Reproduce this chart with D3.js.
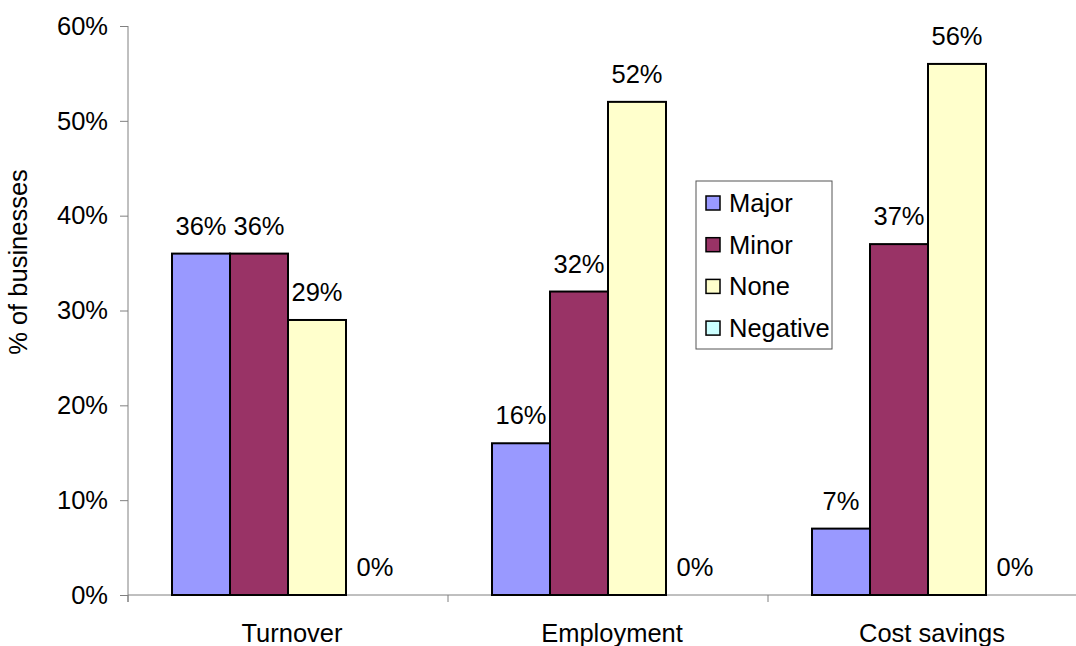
<!DOCTYPE html>
<html>
<head>
<meta charset="utf-8">
<script src="https://cdn.jsdelivr.net/npm/d3@7"></script>
<style>
  html, body { margin: 0; padding: 0; background: #fff; }
  svg { display: block; font-family: "Liberation Sans", Arial, sans-serif; }
</style>
</head>
<body>
<svg id="chart" width="1076" height="646"></svg>
<script>
// Share of businesses reporting each level of impact, by area
const categories = ["Turnover", "Employment", "Cost savings"];
const seriesNames = ["Major", "Minor", "None", "Negative"];
const major = [0.36, 0.16, 0.07];
const minor = [0.36, 0.32, 0.37];
const none = [0.29, 0.52, 0.56];
const negative = [0, 0, 0];
const yTicks = [0, 0.1, 0.2, 0.3, 0.4, 0.5, 0.6];
const seriesColors = ["#9999FF", "#993366", "#FFFFCC", "#CCFFFF"];

const seriesValues = [major, minor, none, negative];
const rows = categories.map((c, i) => ({
  category: c,
  values: seriesNames.map((s, j) => ({ series: s, value: seriesValues[j][i] }))
}));

const svg = d3.select("#chart");
const fontSize = 25.5;
const axisColor = "#808080";

const plotLeft = 128, plotRight = 1088, plotTop = 26, plotBottom = 595;

const x0 = d3.scaleBand().domain(categories).range([plotLeft, plotRight]);
const x1 = d3.scaleBand().domain(seriesNames).range([44, x0.bandwidth() - 44]);
const y = d3.scaleLinear().domain([0, 0.6]).range([plotBottom, plotTop]);
const color = d3.scaleOrdinal().domain(seriesNames).range(seriesColors);

// Y axis
const yAxis = svg.append("g")
  .attr("transform", `translate(${plotLeft},0)`)
  .call(d3.axisLeft(y).tickValues(yTicks).tickFormat(d3.format(".0%"))
    .tickSize(8).tickPadding(12).tickSizeOuter(0));
yAxis.select(".domain").remove();
yAxis.selectAll(".tick line").attr("stroke", axisColor);
yAxis.selectAll(".tick text")
  .attr("fill", "#000")
  .style("font-size", fontSize + "px")
  .style("font-family", "'Liberation Sans', Arial, sans-serif");
svg.append("line")
  .attr("x1", plotLeft).attr("x2", plotLeft)
  .attr("y1", plotTop).attr("y2", plotBottom + 7)
  .attr("stroke", axisColor);

// X axis baseline and category boundary ticks
svg.append("line")
  .attr("x1", plotLeft).attr("x2", plotRight)
  .attr("y1", plotBottom).attr("y2", plotBottom)
  .attr("stroke", axisColor);
const boundaries = categories.map(c => x0(c)).concat([plotRight]);
svg.selectAll(".xtick").data(boundaries).join("line")
  .attr("class", "xtick")
  .attr("x1", d => d).attr("x2", d => d)
  .attr("y1", plotBottom).attr("y2", plotBottom + 7)
  .attr("stroke", axisColor);
svg.selectAll(".xlabel").data(categories).join("text")
  .attr("class", "xlabel")
  .attr("x", d => x0(d) + x0.bandwidth() / 2 + 4)
  .attr("y", 642)
  .attr("text-anchor", "middle")
  .style("font-size", fontSize + "px")
  .text(d => d);

// Y axis title
svg.append("text")
  .attr("transform", "translate(27,262) rotate(-90)")
  .attr("text-anchor", "middle")
  .style("font-size", fontSize + "px")
  .text("% of businesses");

// Bars
const groups = svg.selectAll(".group").data(rows).join("g")
  .attr("class", "group")
  .attr("transform", d => `translate(${x0(d.category)},0)`);

groups.selectAll("rect").data(d => d.values.filter(v => v.value > 0)).join("rect")
  .attr("x", d => x1(d.series))
  .attr("y", d => y(d.value))
  .attr("width", x1.bandwidth())
  .attr("height", d => y(0) - y(d.value))
  .attr("fill", d => color(d.series))
  .attr("stroke", "#000")
  .attr("stroke-width", 2);

groups.selectAll(".vlabel").data(d => d.values).join("text")
  .attr("class", "vlabel")
  .attr("x", d => x1(d.series) + x1.bandwidth() / 2)
  .attr("y", d => y(d.value) - 19)
  .attr("text-anchor", "middle")
  .style("font-size", fontSize + "px")
  .text(d => d3.format(".0%")(d.value));

// Legend
const legend = svg.append("g").attr("transform", "translate(696,181)");
legend.append("rect")
  .attr("width", 136).attr("height", 168)
  .attr("fill", "#fff").attr("stroke", "#555").attr("stroke-width", 1);
const items = legend.selectAll(".item").data(seriesNames).join("g")
  .attr("class", "item")
  .attr("transform", (d, i) => `translate(0,${22 + i * 41.7})`);
items.append("rect")
  .attr("x", 10).attr("y", -7).attr("width", 14).attr("height", 14)
  .attr("fill", d => color(d)).attr("stroke", "#000").attr("stroke-width", 1.5);
items.append("text")
  .attr("x", 33).attr("y", 9)
  .style("font-size", fontSize + "px")
  .text(d => d);
</script>
</body>
</html>
